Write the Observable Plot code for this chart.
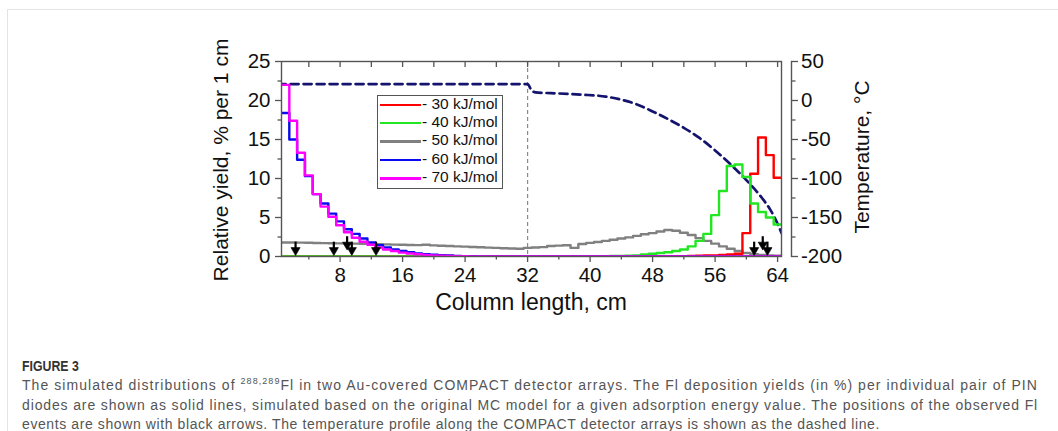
<!DOCTYPE html>
<html><head><meta charset="utf-8">
<script src="https://cdn.jsdelivr.net/npm/d3@7"></script>
<script src="https://cdn.jsdelivr.net/npm/@observablehq/plot@0.6"></script>
<style>
body{margin:0;background:#fff;width:1058px;height:431px;overflow:hidden;position:relative;font-family:"Liberation Sans",Arial,sans-serif;}
#card{position:absolute;left:7px;top:9px;width:1070px;height:450px;border:1px solid #e4e4e4;}
#chart{position:absolute;left:0;top:0;}
.lab{position:absolute;font-size:21px;color:#111;white-space:nowrap;}
#legend{position:absolute;left:377px;top:95px;width:124px;height:92px;border:1px solid #555;background:#fff;}
.row{position:absolute;left:0;height:18px;width:124px;}
.sw{position:absolute;left:2px;top:8px;width:41px;height:2.6px;}
.tx{position:absolute;left:44px;top:-1px;font-size:15.5px;color:#111;white-space:nowrap;}
#fig{position:absolute;left:22px;top:357px;font-family:"Liberation Sans",sans-serif;font-weight:bold;font-size:15px;color:#333;transform:scaleX(0.82);transform-origin:left top;}
#cap{position:absolute;left:22px;top:376px;font-family:"Liberation Sans",sans-serif;font-size:14px;line-height:19.5px;color:#555;white-space:nowrap;}
#cap sup{font-size:9px;vertical-align:6px;line-height:0;}
</style></head>
<body>
<div id="card"></div>
<div id="chart"></div>
<div class="lab" id="ylab" style="left:221px;top:160px;transform:translate(-50%,-50%) rotate(-90deg);">Relative yield, % per 1 cm</div>
<div class="lab" id="y2lab" style="left:862px;top:157px;transform:translate(-50%,-50%) rotate(-90deg);">Temperature, °C</div>
<div class="lab" id="xlab" style="left:531px;top:302px;font-size:23px;transform:translate(-50%,-50%);">Column length, cm</div>
<div id="legend"></div>
<div id="fig">FIGURE 3</div>
<div id="cap"><span class="ln">The simulated distributions of <sup>288,289</sup>Fl in two Au-covered COMPACT detector arrays. The Fl deposition yields (in %) per individual pair of PIN</span><br><span class="ln">diodes are shown as solid lines, simulated based on the original MC model for a given adsorption energy value. The positions of the observed Fl</span><br><span class="ln">events are shown with black arrows. The temperature profile along the COMPACT detector arrays is shown as the dashed line.</span></div>
<script>
// Column positions (cm), one bin per 1 cm
const columnCm = [1,2,3,4,5,6,7,8,9,10,11,12,13,14,15,16,17,18,19,20,21,22,23,24,25,26,27,28,29,30,31,32,
  33,34,35,36,37,38,39,40,41,42,43,44,45,46,47,48,49,50,51,52,53,54,55,56,57,58,59,60,61,62,63,64];

// Relative yield (%) per 1 cm for each adsorption energy
const yield30 = [0,0,0,0,0,0,0,0,0,0,0,0,0,0,0,0,0,0,0,0,0,0,0,0,0,0,0,0,0,0,0,0,
  0,0,0,0,0,0,0,0,0,0,0,0,0,0,0,0,0,0,0.03,0.05,0.08,0.1,0.12,0.15,0.2,0.25,0.35,3.0,10.6,15.25,13.0,10.1];
const yield40 = [0,0,0,0,0,0,0,0,0,0,0,0,0,0,0,0,0,0,0,0,0,0,0,0,0,0,0,0,0,0,0,0,
  0,0,0,0,0,0.02,0.03,0.04,0.05,0.05,0.06,0.08,0.1,0.15,0.25,0.35,0.45,0.55,0.7,0.9,1.3,2.0,2.9,5.3,8.4,11.6,11.8,10.2,6.8,5.7,5.0,4.1];
const yield50 = [1.8,1.8,1.78,1.76,1.74,1.72,1.7,1.68,1.66,1.65,1.62,1.6,1.58,1.55,1.52,1.5,1.48,1.46,1.5,1.42,1.38,1.34,1.3,1.26,1.22,1.18,1.14,1.1,1.06,1.02,1.0,1.1,
  1.15,1.2,1.35,1.4,1.45,1.1,1.6,1.75,1.85,2.0,2.15,2.3,2.45,2.65,2.85,3.0,3.2,3.4,3.3,3.05,2.75,2.35,2.0,1.65,1.3,1.0,0.7,0.45,0.3,0.2,0.15,0.1];
const yield60 = [18.4,15.0,12.4,10.3,8.0,6.8,5.5,4.5,3.5,2.9,2.3,1.8,1.45,1.15,0.9,0.7,0.55,0.4,0.3,0.22,0.16,0.12,0.08,0.05,0.03,0.02,0.01,0,0,0,0,0,
  0,0,0,0,0,0,0,0,0,0,0,0,0,0,0,0,0,0,0,0,0,0,0,0,0,0,0,0,0,0,0,0];
const yield70 = [22.0,17.4,13.3,10.4,8.0,6.4,5.1,4.0,3.1,2.4,1.9,1.5,1.15,0.9,0.7,0.5,0.38,0.28,0.2,0.14,0.1,0.07,0.05,0.03,0.02,0.01,0,0,0,0,0,0,
  0,0,0,0,0,0,0,0,0,0,0,0,0,0,0,0,0,0,0,0,0,0,0,0,0,0,0,0,0,0,0,0];

const seriesNames = ["- 30 kJ/mol","- 40 kJ/mol","- 50 kJ/mol","- 60 kJ/mol","- 70 kJ/mol"];
const seriesColors = ["#ff0000","#22e622","#808080","#0a0aee","#ff00ff"];

// Temperature profile (°C) along the column
const tempCm = [0,32,32.5,33,36,39,42,44,46,48,50,52,54,56,58,60,62,63,64,64.5];
const tempC  = [21,21,13,10.5,9,7.5,5,1,-5,-14,-24,-35,-48,-64,-82,-102,-125,-139,-158,-170];

// Observed Fl events (cm) and arrow top level (%)
const eventCm  = [2.3,7.2,8.9,9.5,12.6,61.0,62.1,62.7];
const eventTop = [1.9,1.9,2.6,1.9,1.9,1.9,2.6,1.9];

const arrayBoundary = [32];
const xMajor = [8,16,24,32,40,48,56,64];
const xMinor = [4,12,20,28,36,44,52,60];
const xTop = [4,8,12,16,20,24,28,32,36,40,44,48,52,56,60,64];
const yMajor = [0,5,10,15,20,25];
const yMinor = [2.5,7.5,12.5,17.5,22.5];
const tMajor = [50,0,-50,-100,-150,-200];
const tMinor = [25,-25,-75,-125,-175];

const toY = t => (t + 200) / 10; // temperature -> left-axis units
const fromY = v => Math.round(v * 10 - 200);

function steps(vals){
  const pts = vals.map((v,i)=>({x: columnCm[i]-0.5, y: v}));
  pts.push({x: columnCm[columnCm.length-1]+0.5, y: vals[vals.length-1]});
  return pts;
}
const allYields = [yield30,yield40,yield50,yield60,yield70];
const drawOrder = [2,0,1,3,4];
const temp = tempCm.map((x,i)=>({x, y: toY(tempC[i])}));
const events = eventCm.map((x,i)=>({x, top: eventTop[i], tip: eventTop[i]-1.65}));

const frameColor = "#555";
const FS = 20.5;
const marks = [
  Plot.ruleX(arrayBoundary, {stroke:"#8a8a8a", strokeWidth:1.2, strokeDasharray:"4,3"}),
  Plot.line(temp, {x:"x", y:"y", stroke:"#14146e", strokeWidth:2.7, strokeDasharray:"8,5", curve:"monotone-x", clip:true}),
  ...drawOrder.map(i => Plot.line(steps(allYields[i]), {x:"x", y:"y", stroke: seriesColors[i], strokeWidth:2.4, curve:"step-after", clip:true})),
  Plot.link(events, {x1:"x", x2:"x", y1:"top", y2: d => d.tip + 0.6, stroke:"#000", strokeWidth:2.2}),
  Plot.dot(events, {x:"x", y: d => d.tip + 0.55, symbol:"triangle", rotate:180, r:3.4, fill:"#000", stroke:"#000", strokeWidth:0.6}),
  Plot.frame({stroke: frameColor, strokeWidth:1.4}),
  Plot.frame({anchor:"right", dx:10, stroke: frameColor, strokeWidth:1.4}),
  Plot.axisX({ticks: xMajor, tickSize:6, tickPadding:5, fontSize:FS, label:null, stroke: frameColor, strokeWidth:1.3}),
  Plot.axisX({ticks: xMinor, tickSize:3.5, tickFormat: () => "", label:null, stroke: frameColor, strokeWidth:1.3}),
  Plot.axisX({anchor:"top", ticks: xTop, tickSize:-5, tickFormat: () => "", label:null, stroke: frameColor, strokeWidth:1.3}),
  Plot.axisY({ticks: yMajor, tickSize:6, tickPadding:5, fontSize:FS, label:null, stroke: frameColor, strokeWidth:1.3}),
  Plot.axisY({ticks: yMinor, tickSize:3.5, tickFormat: () => "", label:null, stroke: frameColor, strokeWidth:1.3}),
  Plot.axisY({anchor:"right", ticks: tMajor.map(toY), tickFormat: v => String(fromY(v)), dx:10, tickSize:6, tickPadding:3.5, fontSize:FS, label:null, stroke: frameColor, strokeWidth:1.3}),
  Plot.axisY({anchor:"right", ticks: tMinor.map(toY), tickFormat: () => "", dx:10, tickSize:3.5, label:null, stroke: frameColor, strokeWidth:1.3})
];

const chart = Plot.plot({
  width:1058, height:320,
  marginLeft:281, marginRight:277, marginTop:61, marginBottom:64,
  x:{domain:[0.5,64.5]},
  y:{domain:[0,25]},
  style:{fontFamily:"'Liberation Sans', Arial, sans-serif", fontSize:"20.5px", color:"#111", background:"transparent", overflow:"visible"},
  marks
});
document.getElementById("chart").appendChild(chart);

// Legend
const leg = document.getElementById("legend");
seriesNames.forEach((name,i)=>{
  const row = document.createElement("div");
  row.className = "row";
  row.style.top = (i*18.4 - 0.5) + "px";
  row.innerHTML = `<div class="sw" style="background:${seriesColors[i]}"></div><div class="tx">${name}</div>`;
  leg.appendChild(row);
});

// Spread caption letters so each line spans like the reference
const lines = [...document.querySelectorAll("#cap .ln")];
const targets = [1016, 1016, 858];
lines.forEach((l, i) => {
  const s = (targets[i] - l.getBoundingClientRect().width) / l.textContent.length;
  l.style.letterSpacing = s.toFixed(3) + "px";
});
</script>
</body></html>
